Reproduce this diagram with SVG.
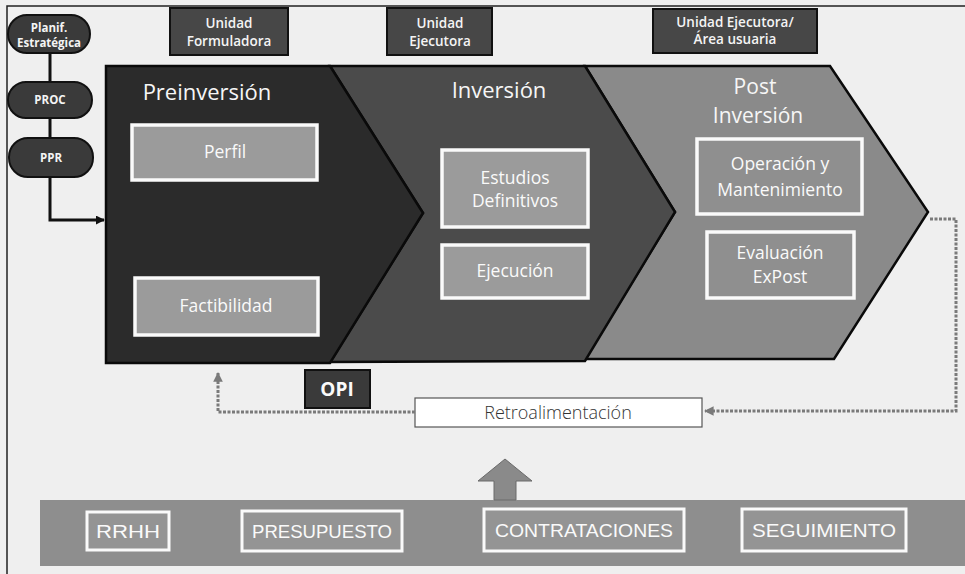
<svg xmlns="http://www.w3.org/2000/svg" width="965" height="574" viewBox="0 0 965 574">
<defs>
<style>
.bg{fill:#efefef}
.frame{fill:none;stroke:#222;stroke-width:1.5}
.oval{fill:#3a3a3a;stroke:#111;stroke-width:2}
.ovt{font-family:"Open Sans","DejaVu Sans",sans-serif;font-weight:700;font-size:11.5px;fill:#f4f4f4;text-anchor:middle}
.unit{fill:#474747;stroke:#111;stroke-width:2}
.unt{font-family:"Open Sans","DejaVu Sans",sans-serif;font-weight:600;font-size:13.5px;fill:#f4f4f4;text-anchor:middle}
.c1{fill:#2b2b2b;stroke:#0a0a0a;stroke-width:2.5}
.c2{fill:#4b4b4b;stroke:#0a0a0a;stroke-width:2.5}
.c3{fill:#8a8a8a;stroke:#0a0a0a;stroke-width:2.5}
.title{font-family:"Open Sans","DejaVu Sans",sans-serif;font-size:22px;fill:#f6f6f6;text-anchor:middle}
.title3{font-family:"Open Sans","DejaVu Sans",sans-serif;font-size:21px;fill:#f6f6f6;text-anchor:middle}
.ibox{fill:#9b9b9b;stroke:#fafafa;stroke-width:3.5}
.ibox3{fill:#8f8f8f;stroke:#fafafa;stroke-width:3.5}
.itxt{font-family:"Open Sans","DejaVu Sans",sans-serif;font-size:17.5px;fill:#fafafa;text-anchor:middle}
.opi{fill:#3a3a3a;stroke:#111;stroke-width:2}
.opit{font-family:"Open Sans","DejaVu Sans",sans-serif;font-weight:700;font-size:19px;fill:#fafafa;text-anchor:middle}
.retro{fill:#ffffff;stroke:#555;stroke-width:1.2}
.retrot{font-family:"Open Sans","DejaVu Sans",sans-serif;font-weight:300;font-size:18px;fill:#333;text-anchor:middle}
.band{fill:#8e8e8e}
.bbox{fill:#949494;stroke:#fafafa;stroke-width:3}
.btxt{font-family:"Liberation Sans","DejaVu Sans",sans-serif;font-size:19px;fill:#fafafa;text-anchor:middle}
.link{fill:none;stroke:#111;stroke-width:3}
.fb{fill:none;stroke:#7a7a7a;stroke-width:3;stroke-dasharray:3 1.5}
</style>
<marker id="ah" viewBox="0 0 10 10" refX="9" refY="5" markerWidth="3" markerHeight="3" orient="auto">
<path d="M0,0 L10,5 L0,10 z" fill="#111"/>
</marker>
<marker id="ahg" viewBox="0 0 10 10" refX="9" refY="5" markerWidth="3.2" markerHeight="3.2" orient="auto">
<path d="M0,0 L10,5 L0,10 z" fill="#7a7a7a"/>
</marker>
</defs>

<rect class="bg" x="0" y="0" width="965" height="574"/>
<path class="frame" d="M7,574 L7,6 L965,6"/>

<g id="planif">
<rect class="oval" x="8" y="15" width="82" height="38" rx="19"/>
<text class="ovt" x="49" y="32">Planif.</text>
<text class="ovt" x="49" y="47">Estratégica</text>
</g>
<g id="proc">
<rect class="oval" x="8" y="82" width="84" height="36" rx="18"/>
<text class="ovt" x="50" y="104">PROC</text>
</g>
<g id="ppr">
<rect class="oval" x="9" y="138" width="84" height="39" rx="19"/>
<text class="ovt" x="51" y="162">PPR</text>
</g>

<g id="unidad-formuladora">
<rect class="unit" x="170" y="8" width="118" height="47"/>
<text class="unt" x="229" y="28">Unidad</text>
<text class="unt" x="229" y="46">Formuladora</text>
</g>
<g id="unidad-ejecutora">
<rect class="unit" x="387" y="8" width="105" height="47"/>
<text class="unt" x="440" y="28">Unidad</text>
<text class="unt" x="440" y="46">Ejecutora</text>
</g>
<g id="unidad-ejecutora-area">
<rect class="unit" x="653" y="9" width="164" height="44"/>
<text class="unt" x="735" y="27">Unidad Ejecutora/</text>
<text class="unt" x="735" y="44">Área usuaria</text>
</g>

<g id="postinversion">
<polygon class="c3" points="585,66 830,66 928,212 834,359 585,359 675,212"/>
<text class="title3" x="755" y="94">Post</text>
<text class="title3" x="758" y="123">Inversión</text>
</g>
<g id="inversion">
<polygon class="c2" points="330,66 585,66 675,212 585,361 330,362 423,213"/>
<text class="title" x="499" y="98">Inversión</text>
</g>
<g id="preinversion">
<polygon class="c1" points="106,66 330,66 423,213 330,363 106,363"/>
<text class="title" x="207" y="100">Preinversión</text>
</g>

<g id="perfil">
<rect class="ibox" x="132" y="125" width="185" height="55"/>
<text class="itxt" x="225" y="158">Perfil</text>
</g>
<g id="factibilidad">
<rect class="ibox" x="135" y="278" width="183" height="57"/>
<text class="itxt" x="226" y="312">Factibilidad</text>
</g>
<g id="estudios">
<rect class="ibox" x="442" y="150" width="146" height="77"/>
<text class="itxt" x="515" y="184">Estudios</text>
<text class="itxt" x="515" y="207">Definitivos</text>
</g>
<g id="ejecucion">
<rect class="ibox" x="442" y="245" width="146" height="53"/>
<text class="itxt" x="515" y="277">Ejecución</text>
</g>
<g id="operacion">
<rect class="ibox3" x="697" y="139" width="165" height="75"/>
<text class="itxt" x="780" y="170">Operación y</text>
<text class="itxt" x="780" y="196">Mantenimiento</text>
</g>
<g id="evaluacion">
<rect class="ibox3" x="707" y="232" width="147" height="66"/>
<text class="itxt" x="780" y="259">Evaluación</text>
<text class="itxt" x="780" y="283">ExPost</text>
</g>

<g id="opi">
<rect class="opi" x="305" y="370" width="65" height="38"/>
<text class="opit" x="337" y="396">OPI</text>
</g>

<g id="retroalimentacion">
<rect class="retro" x="415" y="398" width="287" height="29"/>
<text class="retrot" x="558" y="419">Retroalimentación</text>
</g>

<g id="soporte">
<rect class="band" x="40" y="500" width="925" height="66"/>
<polygon points="505,459 532,481 516,481 516,500 494,500 494,481 478,481" fill="#8a8a8a" stroke="#6a6a6a" stroke-width="1"/>
<g id="rrhh">
<rect class="bbox" x="87" y="512" width="82" height="38"/>
<text class="btxt" x="128" y="538" textLength="64" lengthAdjust="spacingAndGlyphs">RRHH</text>
</g>
<g id="presupuesto">
<rect class="bbox" x="242" y="511" width="160" height="40"/>
<text class="btxt" x="322" y="538" textLength="140" lengthAdjust="spacingAndGlyphs">PRESUPUESTO</text>
</g>
<g id="contrataciones">
<rect class="bbox" x="484" y="509" width="200" height="42"/>
<text class="btxt" x="584" y="537" textLength="178" lengthAdjust="spacingAndGlyphs">CONTRATACIONES</text>
</g>
<g id="seguimiento">
<rect class="bbox" x="742" y="509" width="164" height="42"/>
<text class="btxt" x="824" y="537" textLength="144" lengthAdjust="spacingAndGlyphs">SEGUIMIENTO</text>
</g>
</g>

<g id="connectors">
<path class="link" d="M50,53 L50,82"/>
<path class="link" d="M50,118 L50,138"/>
<path class="link" d="M50,177 L50,220 L104,220" marker-end="url(#ah)"/>
<path class="fb" d="M930,219 L956,219 L956,411 L705,411" marker-end="url(#ahg)"/>
<path class="fb" d="M415,412 L218,412 L218,373" marker-end="url(#ahg)"/>
</g>
</svg>
